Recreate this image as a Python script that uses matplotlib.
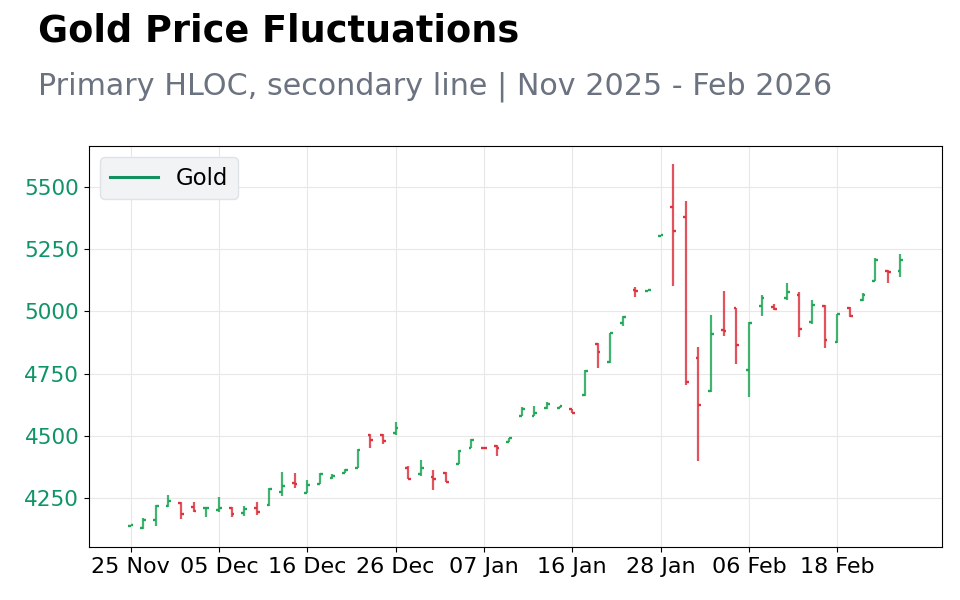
import matplotlib.pyplot as plt
import numpy as np

# daily HLOC, one bar per trading day (25 Nov 2025 - 25 Feb 2026)
opens = [4140, 4130, 4163, 4220, 4232, 4216, 4210, 4203, 4210, 4192,
         4210, 4223, 4276, 4310, 4272, 4308, 4332, 4352, 4372, 4504,
         4504, 4512, 4372, 4347, 4336, 4352, 4388, 4452, 4453, 4460,
         4476, 4580, 4580, 4611, 4614, 4608, 4665, 4868, 4796, 4952,
         5085, 5082, 5302, 5420, 5380, 4812, 4680, 4926, 5012, 4764,
         5020, 5016, 5052, 5064, 4956, 5022, 4876, 5015, 5044, 5124,
         5164, 5164]
highs = [4142, 4171, 4224, 4263, 4234, 4235, 4213, 4255, 4214, 4219,
         4235, 4290, 4355, 4351, 4323, 4350, 4346, 4366, 4446, 4506,
         4506, 4555, 4379, 4403, 4363, 4354, 4442, 4486, 4454, 4462,
         4493, 4618, 4619, 4635, 4621, 4610, 4766, 4874, 4914, 4982,
         5099, 5084, 5306, 5591, 5443, 4859, 4987, 5083, 5015, 4959,
         5067, 5031, 5115, 5079, 5047, 5024, 4990, 5016, 5075, 5215,
         5166, 5231]
lows = [4138, 4127, 4140, 4215, 4168, 4196, 4176, 4196, 4176, 4180,
        4184, 4219, 4260, 4292, 4270, 4306, 4328, 4350, 4370, 4451,
        4467, 4504, 4326, 4340, 4284, 4314, 4387, 4450, 4450, 4420,
        4475, 4578, 4578, 4610, 4613, 4590, 4662, 4772, 4794, 4940,
        5056, 5081, 5301, 5100, 4704, 4400, 4678, 4900, 4788, 4656,
        4980, 5004, 5044, 4896, 4948, 4852, 4872, 4978, 5040, 5122,
        5115, 5139]
closes = [4141, 4164, 4220, 4240, 4188, 4200, 4212, 4212, 4188, 4208,
          4195, 4288, 4300, 4306, 4303, 4348, 4340, 4364, 4444, 4483,
          4479, 4532, 4327, 4372, 4328, 4316, 4440, 4484, 4451, 4452,
          4491, 4608, 4592, 4628, 4620, 4593, 4760, 4836, 4912, 4979,
          5081, 5084, 5305, 5324, 4716, 4624, 4908, 4922, 4864, 4952,
          5052, 5008, 5076, 4928, 5024, 4884, 4988, 4980, 5064, 5208,
          5160, 5207]

tick_labels = ['25 Nov', '05 Dec', '16 Dec', '26 Dec', '07 Jan',
               '16 Jan', '28 Jan', '06 Feb', '18 Feb']

up_col = '#22a658'
down_col = '#dc3540'
line_col = '#12905f'

fig = plt.figure(figsize=(9.6, 6), dpi=100)
ax = fig.add_axes([0.0927, 0.0883, 0.8885, 0.6684])

x = np.arange(len(opens))
w = 0.22
for i in x:
    c = up_col if closes[i] >= opens[i] else down_col
    ax.vlines(i, lows[i], highs[i], color=c, lw=1.6, alpha=0.85)
    ax.hlines(opens[i], i - w, i, color=c, lw=1.7)
    ax.hlines(closes[i], i, i + w, color=c, lw=1.7)

# secondary line series (legend only, no points drawn)
ax.plot([], [], color=line_col, lw=2.2, label='Gold')

ax.set_xticks(x[::7])
ax.set_xticklabels(tick_labels, fontsize=16)
ax.set_yticks([4250, 4500, 4750, 5000, 5250, 5500])
ax.tick_params(axis='y', labelsize=15.5, labelcolor='#0f9468')
ax.grid(True, color='#e8e8e8', lw=0.8)
ax.set_axisbelow(True)

leg = ax.legend(loc='upper left', fontsize=16.5, facecolor='#f1f3f5',
                edgecolor='#dfe2e6', framealpha=1, handlelength=2.1)

fig.text(0.04, 0.948, 'Gold Price Fluctuations', fontsize=26.4,
         fontweight='bold', va='center')
fig.text(0.04, 0.856, 'Primary HLOC, secondary line | Nov 2025 - Feb 2026',
         fontsize=21.7, color='#6b7280', va='center')

plt.savefig('out.png', dpi=100)
